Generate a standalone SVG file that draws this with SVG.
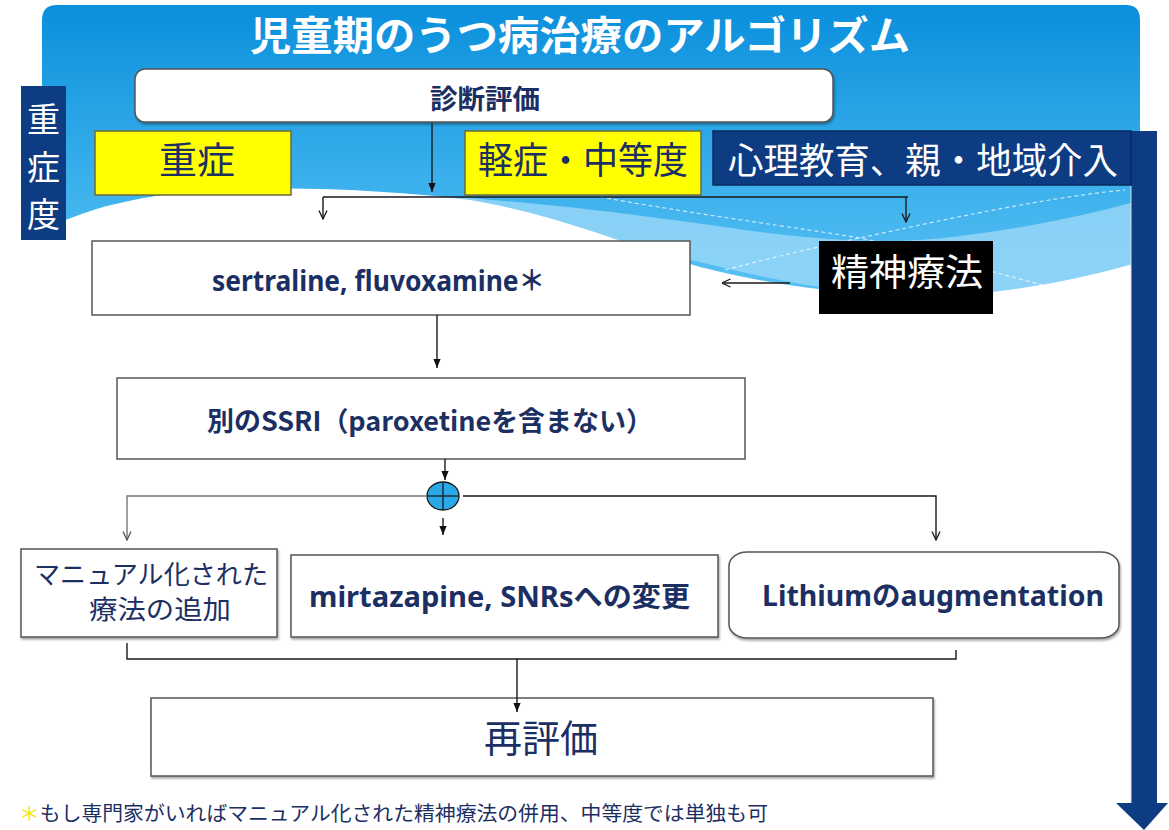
<svg xmlns="http://www.w3.org/2000/svg" width="1169" height="830" viewBox="0 0 1169 830">
<defs>
<style>
.jp{font-family:"Noto Sans CJK JP","Noto Sans",sans-serif;}
.en{font-family:"Noto Sans","Noto Sans CJK JP",sans-serif;}
.navy{fill:#1c2f63;}
.b{font-weight:bold;}
.box{fill:#ffffff;stroke:#555555;stroke-width:1.5;}
.ybox{fill:#ffff00;stroke:#6b6b3a;stroke-width:1.5;}
.line{fill:none;stroke:#1a1a1a;stroke-width:1.4;}
.gline{fill:none;stroke:#777777;stroke-width:1.4;}
.dash{fill:none;stroke:#ffffff;stroke-width:1.2;stroke-dasharray:4 3;opacity:0.7;}
</style>
<linearGradient id="bg" x1="0" y1="0" x2="0" y2="1">
<stop offset="0" stop-color="#0a8fdc"/>
<stop offset="0.6" stop-color="#3bb0ec"/>
<stop offset="1" stop-color="#5cc2f4"/>
</linearGradient>
<filter id="sh" x="-5%" y="-10%" width="110%" height="130%">
<feDropShadow dx="1" dy="2" stdDeviation="1" flood-color="#000" flood-opacity="0.35"/>
</filter>
<marker id="ao" viewBox="0 0 10 10" refX="9.5" refY="5" markerWidth="10" markerHeight="10" markerUnits="userSpaceOnUse" orient="auto">
<path d="M1,1 L9.5,5 L1,9" fill="none" stroke="#1a1a1a" stroke-width="1.3"/>
</marker>
<marker id="aog" viewBox="0 0 10 10" refX="9.5" refY="5" markerWidth="10" markerHeight="10" markerUnits="userSpaceOnUse" orient="auto">
<path d="M1,1 L9.5,5 L1,9" fill="none" stroke="#555555" stroke-width="1.3"/>
</marker>
<marker id="af" viewBox="0 0 10 10" refX="10" refY="5" markerWidth="9" markerHeight="9" markerUnits="userSpaceOnUse" orient="auto">
<path d="M0,1 L10,5 L0,9 Z" fill="#111111"/>
</marker>
</defs>

<rect width="1169" height="830" fill="#ffffff"/>

<g id="background">
<path d="M42,20 Q42,5 57,5 L1126,5 Q1140,5 1140,20 L1140,300 L42,300 Z" fill="url(#bg)"/>
<path d="M360,192 C520,198 640,215 760,232 C840,242 900,244 960,236 C1040,226 1100,212 1140,200 L1140,262 C1080,285 1010,294 940,295 C880,296 830,290 780,280 C650,255 520,205 360,192 Z" fill="#9fdaf8" opacity="0.75"/>
<path d="M42,232 C80,210 140,192 240,189 C330,187 400,192 470,200 C560,215 640,250 700,267 C760,282 820,292 900,296 C980,298 1060,285 1140,262 L1140,320 L42,320 Z" fill="#ffffff"/>
<path class="dash" d="M600,197 C700,215 800,228 860,238 C940,255 1000,275 1055,288"/>
<path class="dash" d="M725,270 C800,250 860,238 920,225 C1000,208 1070,195 1125,190"/>
</g>

<g id="title">
<text class="jp b" x="250" y="50" font-size="40" fill="#ffffff" textLength="660" lengthAdjust="spacingAndGlyphs">児童期のうつ病治療のアルゴリズム</text>
</g>

<g id="severity-label">
<rect x="21" y="86" width="45" height="154" fill="#0d3c82"/>
<text class="jp" x="27" y="132" font-size="34" fill="#ffffff" textLength="33" lengthAdjust="spacingAndGlyphs">重</text>
<text class="jp" x="27" y="180" font-size="34" fill="#ffffff" textLength="33" lengthAdjust="spacingAndGlyphs">症</text>
<text class="jp" x="27" y="227" font-size="34" fill="#ffffff" textLength="33" lengthAdjust="spacingAndGlyphs">度</text>
</g>

<g id="big-arrow">
<path d="M1131,131 L1157,131 L1157,803 L1168,803 L1144,830 L1116,803 L1131,803 Z" fill="#0d3c82"/>
<line x1="1131" y1="186" x2="1131" y2="803" stroke="#d8dde8" stroke-width="1"/>
</g>

<g id="node-diagnosis">
<rect x="135" y="69" width="698" height="53" rx="10" class="box" filter="url(#sh)"/>
<text class="jp b navy" x="430" y="109" font-size="27" textLength="110" lengthAdjust="spacingAndGlyphs">診断評価</text>
</g>

<g id="node-severe">
<rect x="95" y="131" width="196" height="64" class="ybox"/>
<text class="jp navy" x="159" y="174" font-size="37" textLength="76" lengthAdjust="spacingAndGlyphs">重症</text>
</g>

<g id="node-mild">
<rect x="465" y="131" width="236" height="64" class="ybox"/>
<text class="jp navy" x="478" y="174" font-size="37" textLength="210" lengthAdjust="spacingAndGlyphs">軽症・中等度</text>
</g>

<g id="node-psychoeducation">
<rect x="713" y="131" width="418" height="54" fill="#0d3c82" stroke="#0a2a5c" stroke-width="1.5"/>
<text class="jp" x="728" y="174" font-size="36" fill="#ffffff" textLength="390" lengthAdjust="spacingAndGlyphs">心理教育、親・地域介入</text>
</g>

<g id="node-ssri1">
<rect x="92" y="241" width="598" height="74" class="box"/>
<text class="en b navy" x="212" y="291" font-size="28" textLength="333" lengthAdjust="spacingAndGlyphs">sertraline, fluvoxamine＊</text>
</g>

<g id="node-psychotherapy">
<rect x="819" y="241" width="174" height="73" fill="#000000"/>
<text class="jp" x="831" y="286" font-size="37" fill="#ffffff" textLength="152" lengthAdjust="spacingAndGlyphs">精神療法</text>
</g>

<g id="node-ssri2">
<rect x="117" y="378" width="628" height="81" class="box"/>
<text class="jp b navy" x="207" y="431" font-size="27" textLength="446" lengthAdjust="spacingAndGlyphs">別のSSRI（paroxetineを含まない）</text>
</g>

<g id="node-plus">
<ellipse cx="443" cy="496" rx="16" ry="14" fill="#29a9e6" stroke="#1a1a1a" stroke-width="1.3"/>
<line x1="427" y1="496" x2="459" y2="496" stroke="#1a1a1a" stroke-width="1.3"/>
<line x1="443" y1="482" x2="443" y2="510" stroke="#1a1a1a" stroke-width="1.3"/>
</g>

<g id="node-manual">
<rect x="21" y="549" width="256" height="88" class="box" filter="url(#sh)"/>
<text class="jp navy" x="34" y="584" font-size="26" textLength="234" lengthAdjust="spacingAndGlyphs">マニュアル化された</text>
<text class="jp navy" x="89" y="619" font-size="26" textLength="142" lengthAdjust="spacingAndGlyphs">療法の追加</text>
</g>

<g id="node-mirtazapine">
<rect x="291" y="555" width="427" height="82" class="box" filter="url(#sh)"/>
<text class="en b navy" x="309" y="607" font-size="28" textLength="381" lengthAdjust="spacingAndGlyphs">mirtazapine, SNRsへの変更</text>
</g>

<g id="node-lithium">
<rect x="729" y="552" width="390" height="86" rx="18" ry="14" class="box" filter="url(#sh)"/>
<text class="en b navy" x="762" y="606" font-size="28" textLength="342" lengthAdjust="spacingAndGlyphs">Lithiumのaugmentation</text>
</g>

<g id="node-reeval">
<rect x="151" y="698" width="782" height="78" class="box" filter="url(#sh)"/>
<text class="jp navy" x="484" y="752" font-size="38" textLength="114" lengthAdjust="spacingAndGlyphs">再評価</text>
</g>

<g id="footnote">
<text class="jp" x="19" y="821" font-size="20" textLength="749" lengthAdjust="spacingAndGlyphs"><tspan fill="#f2e600">＊</tspan><tspan class="navy">もし専門家がいればマニュアル化された精神療法の併用、中等度では単独も可</tspan></text>
</g>

<g id="connectors">
<line class="line" x1="432" y1="123" x2="432" y2="192" marker-end="url(#af)"/>
<line class="line" x1="323" y1="197" x2="908" y2="197"/>
<line class="line" x1="323" y1="197" x2="323" y2="219" marker-end="url(#ao)"/>
<line class="line" x1="906" y1="197" x2="906" y2="222" marker-end="url(#ao)"/>
<line class="line" x1="790" y1="283" x2="722" y2="283" marker-end="url(#ao)"/>
<line class="line" x1="437" y1="315" x2="437" y2="368" marker-end="url(#af)"/>
<line class="line" x1="445" y1="459" x2="445" y2="480" marker-end="url(#af)"/>
<path class="gline" d="M427,496 L127,496 L127,540" marker-end="url(#aog)"/>
<path class="line" d="M463,496 L936,496 L936,540" marker-end="url(#ao)"/>
<line class="line" x1="443" y1="518" x2="443" y2="535" marker-end="url(#af)"/>
<path class="line" d="M127,643 L127,659 L956,659 L956,650" stroke="#333333"/>
<line class="line" x1="517" y1="659" x2="517" y2="712" marker-end="url(#af)"/>
</g>
</svg>
